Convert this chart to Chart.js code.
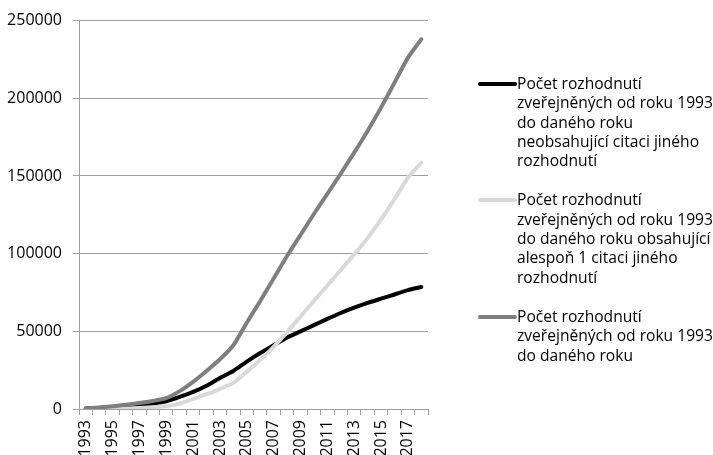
<!DOCTYPE html>
<html>
<head>
<meta charset="utf-8">
<script src="https://cdn.jsdelivr.net/npm/chart.js@4.4.1/dist/chart.umd.min.js"></script>
<style>
  html, body { margin: 0; padding: 0; background: #fff; }
  #wrap { position: relative; width: 713px; height: 455px; }
  #legend { position: absolute; left: 478px; top: 74px; font-family: 'Open Sans', sans-serif; font-size: 15.6px; line-height: 19.3px; color: #000; }
  .item { display: flex; align-items: flex-start; margin-bottom: 20px; }
  .swatch { width: 39px; height: 4px; margin-top: 8px; border-radius: 2px; flex: none; }
  .txt { width: 198px; }
</style>
</head>
<body>
<div id="wrap">
  <canvas id="myChart" width="713" height="455"></canvas>
  <div id="legend"></div>
</div>
<script>
  const years = ['1993','1994','1995','1996','1997','1998','1999','2000','2001','2002','2003','2004','2005',
                 '2006','2007','2008','2009','2010','2011','2012','2013','2014','2015','2016','2017','2018'];

  // rozhodnutí bez citace
  const bezCitace = [300, 700, 1200, 1900, 2700, 3600, 5000, 7800, 11000, 15000, 20000, 24500, 30500,
                     36000, 41000, 46000, 50000, 54000, 58000, 61800, 65200, 68300, 71000, 73700, 76500, 78500];
  // rozhodnutí s citací
  const sCitaci = [0, 100, 200, 400, 700, 1100, 1800, 3500, 6500, 9500, 13000, 16800, 24000,
                   31500, 40000, 49500, 59500, 69500, 79500, 89500, 99500, 110000, 122000, 135000, 149000, 158500];
  // celkem
  const celkem = [400, 1000, 1700, 2700, 3800, 5200, 7000, 11500, 17500, 24500, 32000, 41000, 55500,
                  69500, 84000, 98500, 112000, 125500, 138500, 151500, 165000, 179000, 194000, 210000, 226000, 238000];

  const labels = [
    'Počet rozhodnutí zveřejněných od roku 1993 do daného roku neobsahující citaci jiného rozhodnutí',
    'Počet rozhodnutí zveřejněných od roku 1993 do daného roku obsahující alespoň 1 citaci jiného rozhodnutí',
    'Počet rozhodnutí zveřejněných od roku 1993 do daného roku'
  ];
  const colors = ['#000000', '#d9d9d9', '#7f7f7f'];
  const yTicks = [0, 50000, 100000, 150000, 200000, 250000];

  Chart.defaults.font.family = "'Open Sans', sans-serif";
  Chart.defaults.font.size = 16;
  Chart.defaults.color = '#000';

  const ctx = document.getElementById('myChart');

  const mk = (i, data, order) => ({
    label: labels[i],
    data: data,
    borderColor: colors[i],
    backgroundColor: colors[i],
    borderWidth: 4,
    pointRadius: 0,
    tension: 0.2,
    borderCapStyle: 'round',
    fill: false,
    order: order
  });

  new Chart(ctx, {
    type: 'line',
    data: {
      labels: years,
      datasets: [mk(0, bezCitace, 3), mk(1, sCitaci, 2), mk(2, celkem, 1)]
    },
    options: {
      responsive: false,
      animation: false,
      layout: { padding: { top: 20, right: 285, left: 0, bottom: 0 } },
      plugins: { legend: { display: false }, tooltip: { enabled: false } },
      scales: {
        x: {
          offset: true,
          grid: { offset: true, drawOnChartArea: false, drawTicks: true, tickLength: 6, color: '#a0a0a0' },
          border: { color: '#a0a0a0' },
          ticks: {
            autoSkip: false, maxRotation: 90, minRotation: 90, padding: 5,
            callback: (v, i) => (i % 2 === 0 ? years[i] : '')
          },
          afterFit: s => { s.height = 46; }
        },
        y: {
          min: 0,
          max: 250000,
          afterBuildTicks: s => { s.ticks = yTicks.map(v => ({ value: v })); },
          grid: { color: '#a0a0a0', tickLength: 6 },
          border: { color: '#a0a0a0' },
          ticks: { padding: 11, callback: v => String(v) },
          afterFit: s => { s.width = 79; }
        }
      }
    }
  });

  const lg = document.getElementById('legend');
  labels.forEach((t, i) => {
    const it = document.createElement('div');
    it.className = 'item';
    it.innerHTML = '<div class="swatch" style="background:' + colors[i] + '"></div><div class="txt">' + t + '</div>';
    lg.appendChild(it);
  });
</script>
</body>
</html>
